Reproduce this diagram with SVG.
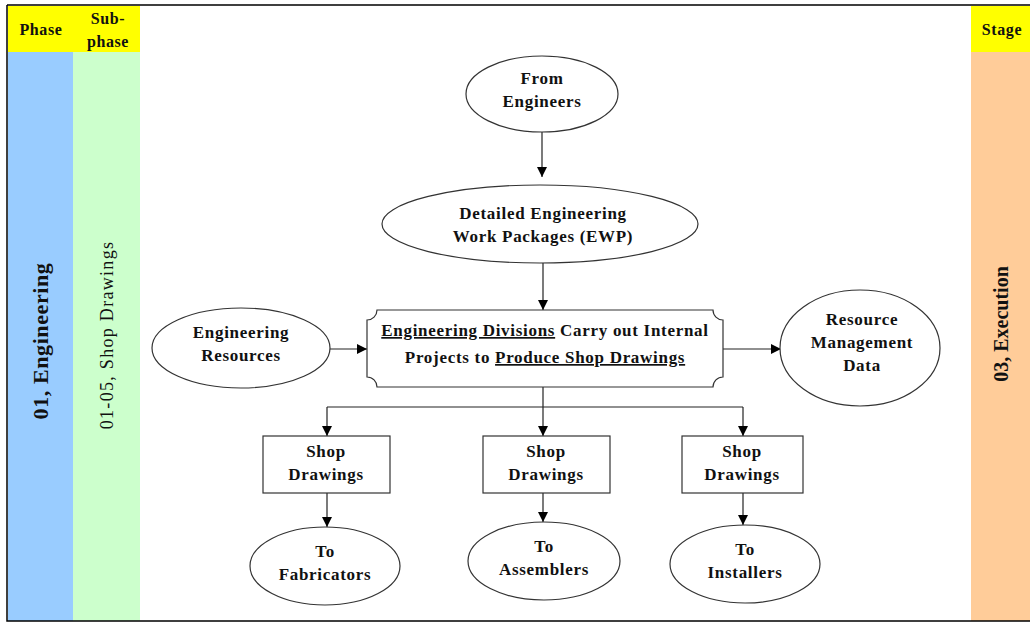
<svg xmlns="http://www.w3.org/2000/svg" width="1030" height="623" viewBox="0 0 1030 623">
  <defs>
    <marker id="arrow" viewBox="0 0 10 10" refX="10" refY="5" markerWidth="10" markerHeight="10" markerUnits="userSpaceOnUse" orient="auto">
      <path d="M0,0 L10,5 L0,10 Z" fill="#000"/>
    </marker>
    <style>
      .shape { fill: #fff; stroke: #333; stroke-width: 1.2; }
      .lbl { font-family: "Liberation Serif", "Times New Roman", serif; font-size: 17px; letter-spacing: 0.7px; font-weight: bold; fill: #111; text-anchor: middle; }
      .hdr { font-family: "Liberation Serif", "Times New Roman", serif; font-size: 16px; letter-spacing: 0.6px; font-weight: bold; fill: #111; text-anchor: middle; }
      .col { font-family: "Liberation Serif", "Times New Roman", serif; fill: #111; text-anchor: middle; }
      .conn { fill: none; stroke: #222; stroke-width: 1.2; }
    </style>
  </defs>

  <rect x="0" y="0" width="1030" height="623" fill="#fff"/>

  <!-- swimlane columns -->
  <g id="lanes">
    <rect x="8" y="6" width="132" height="46" fill="#ffff00"/>
    <rect x="971" y="6" width="59" height="46" fill="#ffff00"/>
    <rect x="8" y="52" width="65" height="569" fill="#99ccff"/>
    <rect x="73" y="52" width="67" height="569" fill="#ccffcc"/>
    <rect x="971" y="52" width="59" height="569" fill="#ffcc99"/>
    <text class="hdr" x="41" y="35">Phase</text>
    <text class="hdr" x="108" y="24">Sub-</text>
    <text class="hdr" x="108" y="47">phase</text>
    <text class="hdr" x="1002" y="35">Stage</text>
    <text class="col" transform="translate(48,341) rotate(-90)" font-size="22" letter-spacing="0.6" font-weight="bold">01, Engineering</text>
    <text class="col" transform="translate(113,335) rotate(-90)" font-size="18" letter-spacing="1.3">01-05, Shop Drawings</text>
    <text class="col" transform="translate(1008,324) rotate(-90)" font-size="20" font-weight="bold">03, Execution</text>
  </g>

  <!-- frame -->
  <path d="M7,5 H1030 M7,5 V621 H1030" fill="none" stroke="#000" stroke-width="1.5"/>

  <!-- connectors -->
  <g id="connectors">
    <line class="conn" x1="542" y1="132" x2="542" y2="177" marker-end="url(#arrow)"/>
    <line class="conn" x1="543" y1="263" x2="543" y2="310" marker-end="url(#arrow)"/>
    <line class="conn" x1="330" y1="349" x2="367" y2="349" marker-end="url(#arrow)"/>
    <line class="conn" x1="723" y1="349" x2="781" y2="349" marker-end="url(#arrow)"/>
    <line class="conn" x1="543" y1="387" x2="543" y2="407"/>
    <line class="conn" x1="327" y1="407" x2="743" y2="407"/>
    <line class="conn" x1="327" y1="407" x2="327" y2="436" marker-end="url(#arrow)"/>
    <line class="conn" x1="543" y1="407" x2="543" y2="436" marker-end="url(#arrow)"/>
    <line class="conn" x1="743" y1="407" x2="743" y2="436" marker-end="url(#arrow)"/>
    <line class="conn" x1="327" y1="493" x2="327" y2="527" marker-end="url(#arrow)"/>
    <line class="conn" x1="543" y1="493" x2="543" y2="522" marker-end="url(#arrow)"/>
    <line class="conn" x1="743" y1="493" x2="743" y2="525" marker-end="url(#arrow)"/>
  </g>

  <g id="from-engineers">
    <ellipse class="shape" cx="542" cy="94" rx="76" ry="38"/>
    <text class="lbl" x="542" y="84">From</text>
    <text class="lbl" x="542" y="107">Engineers</text>
  </g>

  <g id="ewp">
    <ellipse class="shape" cx="540" cy="224" rx="158" ry="39"/>
    <text class="lbl" x="543" y="219">Detailed Engineering</text>
    <text class="lbl" x="543" y="242">Work Packages (EWP)</text>
  </g>

  <g id="eng-resources">
    <ellipse class="shape" cx="241" cy="348" rx="89" ry="40"/>
    <text class="lbl" x="241" y="338">Engineering</text>
    <text class="lbl" x="241" y="361">Resources</text>
  </g>

  <g id="eng-divisions">
    <path class="shape" d="M377,310 H713 A10,10 0 0 0 723,320 V377 A10,10 0 0 0 713,387 H377 A10,10 0 0 0 367,377 V320 A10,10 0 0 0 377,310 Z"/>
    <text class="lbl" x="545" y="336"><tspan text-decoration="underline">Engineering Divisions</tspan> Carry out Internal</text>
    <text class="lbl" x="545" y="363">Projects to <tspan text-decoration="underline">Produce Shop Drawings</tspan></text>
  </g>

  <g id="resource-data">
    <ellipse class="shape" cx="860" cy="348" rx="80" ry="58"/>
    <text class="lbl" x="862" y="325">Resource</text>
    <text class="lbl" x="862" y="348">Management</text>
    <text class="lbl" x="862" y="371">Data</text>
  </g>

  <g id="shop-drawings-1">
    <rect class="shape" x="263" y="436" width="127" height="57"/>
    <text class="lbl" x="326" y="457">Shop</text>
    <text class="lbl" x="326" y="480">Drawings</text>
  </g>
  <g id="shop-drawings-2">
    <rect class="shape" x="483" y="436" width="127" height="57"/>
    <text class="lbl" x="546" y="457">Shop</text>
    <text class="lbl" x="546" y="480">Drawings</text>
  </g>
  <g id="shop-drawings-3">
    <rect class="shape" x="682" y="436" width="121" height="57"/>
    <text class="lbl" x="742" y="457">Shop</text>
    <text class="lbl" x="742" y="480">Drawings</text>
  </g>

  <g id="to-fabricators">
    <ellipse class="shape" cx="325" cy="566" rx="75" ry="39"/>
    <text class="lbl" x="325" y="557">To</text>
    <text class="lbl" x="325" y="580">Fabricators</text>
  </g>
  <g id="to-assemblers">
    <ellipse class="shape" cx="544" cy="561" rx="76" ry="39"/>
    <text class="lbl" x="544" y="552">To</text>
    <text class="lbl" x="544" y="575">Assemblers</text>
  </g>
  <g id="to-installers">
    <ellipse class="shape" cx="745" cy="564" rx="75" ry="39"/>
    <text class="lbl" x="745" y="555">To</text>
    <text class="lbl" x="745" y="578">Installers</text>
  </g>
</svg>
